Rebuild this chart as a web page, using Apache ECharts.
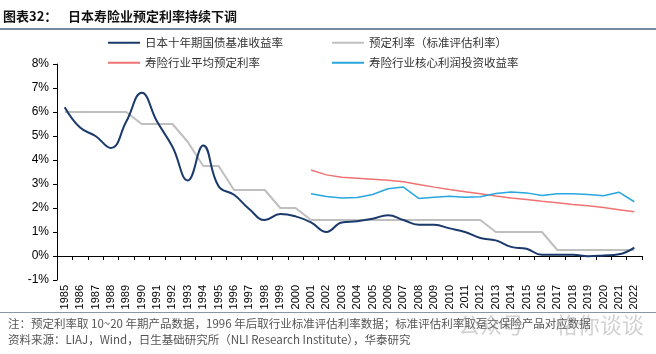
<!DOCTYPE html>
<html>
<head>
<meta charset="utf-8">
<script src="https://cdn.jsdelivr.net/npm/echarts@6/dist/echarts.min.js"></script>
<style>
html,body{margin:0;padding:0;background:#fff;}
#c{width:656px;height:354px;}
</style>
</head>
<body>
<div id="c"></div>
<script>
var years = ['1985','1986','1987','1988','1989','1990','1991','1992','1993','1994','1995','1996','1997','1998','1999','2000','2001','2002','2003','2004','2005','2006','2007','2008','2009','2010','2011','2012','2013','2014','2015','2016','2017','2018','2019','2020','2021','2022'];
var jgb10y = [6.2,5.35,5.0,4.5,5.6,6.8,5.6,4.55,3.15,4.6,2.9,2.55,1.95,1.5,1.75,1.65,1.4,1.0,1.4,1.45,1.55,1.7,1.5,1.3,1.3,1.15,1.0,0.75,0.65,0.38,0.3,0.05,0.05,0.05,-0.01,0.02,0.07,0.35];
var assumedRate = [6.0,6.0,6.0,6.0,6.0,5.5,5.5,5.5,4.75,3.75,3.75,2.75,2.75,2.75,2.0,2.0,1.5,1.5,1.5,1.5,1.5,1.5,1.5,1.5,1.5,1.5,1.5,1.5,1.0,1.0,1.0,1.0,0.25,0.25,0.25,0.25,0.25,0.25];
var avgAssumedRate = [null,null,null,null,null,null,null,null,null,null,null,null,null,null,null,null,3.58,3.38,3.28,3.24,3.2,3.16,3.09,2.98,2.87,2.77,2.68,2.59,2.5,2.42,2.35,2.28,2.22,2.15,2.09,2.02,1.93,1.84];
var coreYield = [null,null,null,null,null,null,null,null,null,null,null,null,null,null,null,null,2.59,2.48,2.42,2.44,2.56,2.8,2.87,2.4,2.45,2.49,2.45,2.47,2.6,2.67,2.63,2.52,2.59,2.59,2.56,2.51,2.66,2.26];
var yTicks = [-1,0,1,2,3,4,5,6,7,8];

var names = ['日本十年期国债基准收益率','预定利率（标准评估利率）','寿险行业平均预定利率','寿险行业核心利润投资收益率'];
var colors = ['#1B3A6B','#BFBFBF','#F07272','#27A6DF'];
var cjk = '"Noto Sans CJK SC", sans-serif';

var chart = echarts.init(document.getElementById('c'));
function lg(i, left, top) {
  return {
    data: [names[i]], left: left, top: top, icon: 'rect', itemWidth: 32, itemHeight: 2,
    itemGap: 0, padding: 0,
    textStyle: {fontFamily: cjk, fontSize: 11.5, color: '#333'}
  };
}
chart.setOption({
  animation: false,
  backgroundColor: '#fff',
  legend: [lg(0,108,37), lg(1,332,37), lg(2,108,57), lg(3,332,57)],
  grid: {left: 57, right: 14, top: 64, bottom: 74},
  xAxis: {
    type: 'category', data: years, boundaryGap: true,
    axisLine: {onZero: true, lineStyle: {color: '#000', width: 1}},
    axisTick: {show: true, interval: 0, length: 4, lineStyle: {color: '#000'}},
    axisLabel: {interval: 0, rotate: 90, fontSize: 11, color: '#000', fontFamily: 'Arial, "Liberation Sans"', margin: 5}
  },
  yAxis: {
    type: 'value', min: yTicks[0], max: yTicks[yTicks.length-1], interval: 1,
    axisLine: {show: true, lineStyle: {color: '#000'}},
    axisTick: {show: true, length: 4, lineStyle: {color: '#000'}},
    splitLine: {show: false},
    axisLabel: {formatter: '{value}%', fontSize: 12, color: '#000', fontFamily: 'Arial, "Liberation Sans"', margin: 8}
  },
  series: [
    {name: names[1], type: 'line', data: assumedRate, symbol: 'none', lineStyle: {color: colors[1], width: 2}, itemStyle: {color: colors[1]}},
    {name: names[2], type: 'line', data: avgAssumedRate, symbol: 'none', lineStyle: {color: colors[2], width: 1.5}, itemStyle: {color: colors[2]}},
    {name: names[3], type: 'line', data: coreYield, symbol: 'none', lineStyle: {color: colors[3], width: 1.5}, itemStyle: {color: colors[3]}},
    {name: names[0], type: 'line', data: jgb10y, symbol: 'none', smooth: 0.45, lineStyle: {color: colors[0], width: 2}, itemStyle: {color: colors[0]}}
  ],
  graphic: [
    {type: 'text', left: 3, top: 10, style: {text: '图表32：', font: 'bold 13px ' + cjk, fill: '#111'}},
    {type: 'text', left: 68, top: 10, style: {text: '日本寿险业预定利率持续下调', font: 'bold 13px ' + cjk, fill: '#111'}},
    {type: 'line', shape: {x1: 0, y1: 29, x2: 656, y2: 29}, style: {stroke: '#4A6283', lineWidth: 1.5}},
    {type: 'line', shape: {x1: 0, y1: 312.5, x2: 656, y2: 312.5}, style: {stroke: '#8A96A6', lineWidth: 1}},
    {type: 'text', left: 8, top: 318, style: {text: '注：预定利率取 10~20 年期产品数据，1996 年后取行业标准评估利率数据；标准评估利率取趸交保险产品对应数据', font: '11.5px ' + cjk, fill: '#555'}},
    {type: 'text', left: 8, top: 334, style: {text: '资料来源：LIAJ，Wind，日生基础研究所（NLI Research Institute），华泰研究', font: '11.5px ' + cjk, fill: '#555'}},
    {type: 'text', left: 458, top: 314, style: {text: '公众号 · 格你谈谈', font: '22px ' + cjk, fill: 'rgba(140,140,140,0.4)'}}
  ]
});
</script>
</body>
</html>
